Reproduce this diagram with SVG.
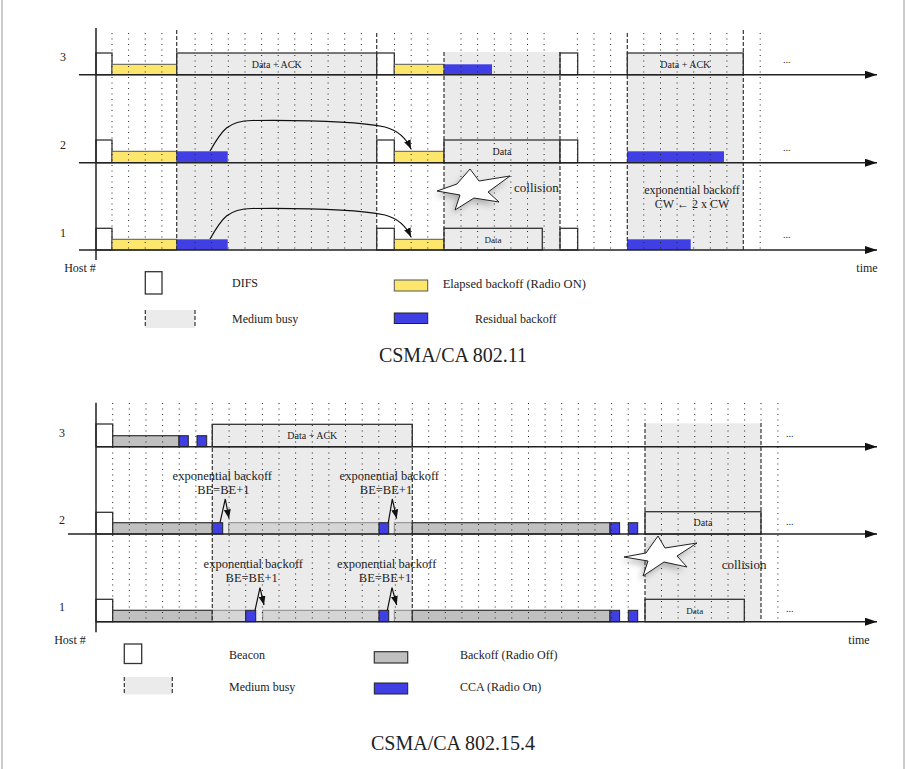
<svg xmlns="http://www.w3.org/2000/svg" width="906" height="769" viewBox="0 0 906 769">
<style>
text{font-family:"Liberation Serif","Times New Roman",serif;fill:#222}
.lbl{font-size:12px}
.sm{font-size:10px}
.xs{font-size:9px}
.ttl{font-size:20px}
.grid{stroke:#222;stroke-width:1;stroke-dasharray:1,4.5;fill:none}
.busyb{stroke:#333;stroke-width:1.2;stroke-dasharray:4,2;fill:none}
.busy{fill:#ebebeb}
.base{stroke:#222;stroke-width:1.5;fill:none}
.box{fill:#fff;stroke:#333;stroke-width:1.3}
.dbox{fill:#ebebeb;stroke:#333;stroke-width:1.3}
.yel{fill:#fde66c;stroke:#555;stroke-width:1}
.blue{fill:#3f3fe3}
.bblue{fill:#3f3fe3;stroke:#222;stroke-width:1}
.gray{fill:#c0c0c0;stroke:#333;stroke-width:1.2}
.lgray{fill:#d5d5d5;stroke:#888;stroke-width:1}
.curve{stroke:#111;stroke-width:1.2;fill:none}
.star{fill:#fff;stroke:#222;stroke-width:1}
</style>
<defs>
<marker id="ah" viewBox="0 0 12 8" refX="12" refY="4" markerWidth="12" markerHeight="8" markerUnits="userSpaceOnUse" orient="auto"><path d="M0,0L12,4L0,8z" fill="#111"/></marker>
<marker id="ahs" viewBox="0 0 9 7" refX="9" refY="3.5" markerWidth="9" markerHeight="7" markerUnits="userSpaceOnUse" orient="auto"><path d="M0,0L9,3.5L0,7z" fill="#111"/></marker>
<filter id="sh" x="-30%" y="-30%" width="160%" height="160%"><feGaussianBlur stdDeviation="3"/></filter>
</defs>
<line x1="2" y1="0" x2="2" y2="769" stroke="#999" stroke-width="1"/>
<line x1="904" y1="0" x2="904" y2="769" stroke="#999" stroke-width="1"/>

<!-- ===== TOP: CSMA/CA 802.11 ===== -->
<g id="top-busy">
<rect class="busy" x="176.7" y="53" width="200" height="197"/>
<rect class="busy" x="444" y="52" width="116" height="198"/>
<rect class="busy" x="627.3" y="53" width="116" height="197"/>
</g>
<g id="top-host3">
<rect class="box" x="96" y="53" width="16" height="21.7"/>
<rect class="yel" x="112" y="64.3" width="64.7" height="10.4"/>
<rect class="dbox" x="176.7" y="53" width="200" height="21.7"/>
<rect class="box" x="376.7" y="53" width="17.6" height="21.7"/>
<rect class="yel" x="394.3" y="64.3" width="49.7" height="10.4"/>
<rect class="blue" x="444" y="64.3" width="48" height="10.4"/>
<rect class="box" x="560" y="53" width="17.7" height="21.7"/>
<rect class="dbox" x="627.3" y="53" width="116" height="21.7"/>
</g>
<g id="top-host2">
<rect class="box" x="96" y="140" width="16" height="22.7"/>
<rect class="yel" x="112" y="151.3" width="64.7" height="11.4"/>
<rect class="blue" x="176.7" y="151.3" width="51" height="11.4"/>
<rect class="box" x="376.7" y="140" width="17.6" height="22.7"/>
<rect class="yel" x="394.3" y="151.3" width="49.7" height="11.4"/>
<rect class="dbox" x="444" y="140" width="116" height="22.7"/>
<rect class="box" x="560" y="140" width="17.7" height="22.7"/>
<rect class="blue" x="627" y="151.3" width="97" height="11.4"/>
</g>
<g id="top-host1">
<rect class="box" x="96" y="228.3" width="16" height="21.7"/>
<rect class="yel" x="112" y="239.3" width="64.7" height="10.7"/>
<rect class="blue" x="176.7" y="239.3" width="51" height="10.7"/>
<rect class="box" x="376.7" y="228.3" width="17.6" height="21.7"/>
<rect class="yel" x="394.3" y="239.3" width="49.7" height="10.7"/>
<rect class="dbox" x="444" y="228.3" width="98.3" height="21.7"/>
<rect class="box" x="560" y="228.3" width="17.7" height="21.7"/>
<rect class="blue" x="627" y="239.3" width="63.7" height="10.7"/>
</g>
<g id="top-grid">
<path class="grid" d="M112,33V250M128.6,33V250M145.2,33V250M161.9,33V250M195.1,33V250M211.7,33V250M228.3,33V250M245,33V250M261.6,33V250M278.2,33V250M294.8,33V250M311.4,33V250M328.1,33V250M344.7,33V250M361.3,33V250M394.5,33V250M411.2,33V250M427.8,33V250M461,33V250M477.6,33V250M494.3,33V250M510.9,33V250M527.5,33V250M544.1,33V250M577.4,33V250M594,33V250M610.6,33V250M643.8,33V250M660.5,33V250M677.1,33V250M693.7,33V250M710.3,33V250M726.9,33V250M760.2,33V250"/>
<path class="busyb" d="M176.7,30V250M376.7,33V250M444,52V250M560,52V250M627.3,33V250M743.3,30V250"/>
</g>
<g id="top-axes">
<line class="base" x1="96" y1="28" x2="96" y2="260"/>
<line class="base" x1="79" y1="74.7" x2="877" y2="74.7" marker-end="url(#ah)"/>
<line class="base" x1="79" y1="162.7" x2="877" y2="162.7" marker-end="url(#ah)"/>
<line class="base" x1="79" y1="250" x2="877" y2="250" marker-end="url(#ah)"/>
</g>
<g id="top-connectors">
<path class="curve" d="M210,151 C222,130 228,121 252,120.5 C300,120 355,121 385,127 C400,131 407,140 411,149" marker-end="url(#ahs)"/>
<path class="curve" d="M210,239 C222,218 228,209 252,208.5 C300,208 355,209 385,215 C400,219 407,228 411,237" marker-end="url(#ahs)"/>
</g>
<g id="top-collision">
<polygon points="437,191 457,184 470,169 479,181 510,176 488,192 499,202 474,198 455,210 460,195" fill="#666" opacity="0.45" filter="url(#sh)" transform="translate(-3,4)"/>
<polygon class="star" points="437,191 457,184 470,169 479,181 510,176 488,192 499,202 474,198 455,210 460,195"/>
<text class="lbl" x="514" y="192" style="font-size:13px">collision</text>
</g>
<g id="top-labels">
<text class="lbl" x="63" y="61" text-anchor="middle">3</text>
<text class="lbl" x="63" y="149" text-anchor="middle">2</text>
<text class="lbl" x="63" y="237" text-anchor="middle">1</text>
<text class="sm" x="276.7" y="68" text-anchor="middle">Data + ACK</text>
<text class="sm" x="685.3" y="68" text-anchor="middle">Data + ACK</text>
<text class="sm" x="502" y="155" text-anchor="middle">Data</text>
<text class="xs" x="493" y="243" text-anchor="middle">Data</text>
<text class="sm" x="783" y="63">...</text>
<text class="sm" x="783" y="151">...</text>
<text class="sm" x="783" y="238">...</text>
<text class="lbl" x="692" y="194" text-anchor="middle">exponential backoff</text>
<text class="lbl" x="692" y="208" text-anchor="middle">CW ← 2 x CW</text>
<text class="lbl" x="80" y="272" text-anchor="middle">Host #</text>
<text class="lbl" x="867" y="272" text-anchor="middle">time</text>
</g>
<g id="top-legend">
<rect class="box" x="145.3" y="271.7" width="16.7" height="22.3"/>
<text class="lbl" x="232" y="287">DIFS</text>
<rect class="yel" x="394.3" y="280" width="33.4" height="11"/>
<text class="lbl" x="442.7" y="288" style="font-size:12.5px">Elapsed backoff (Radio ON)</text>
<rect class="busy" x="145.3" y="310" width="49.7" height="18"/>
<path class="busyb" d="M145.3,310V328M195,310V328"/>
<text class="lbl" x="232" y="323">Medium busy</text>
<rect class="bblue" x="394.3" y="313" width="33.4" height="10.5"/>
<text class="lbl" x="475" y="323">Residual backoff</text>
<text class="ttl" x="453" y="362" text-anchor="middle">CSMA/CA 802.11</text>
</g>

<!-- ===== BOTTOM: CSMA/CA 802.15.4 ===== -->
<g id="bot-busy">
<rect class="busy" x="212.3" y="424.3" width="200" height="197.4"/>
<rect class="busy" x="645" y="423.3" width="116" height="198.4"/>
</g>
<g id="bot-host3">
<rect class="box" x="96" y="424" width="16.7" height="22.7"/>
<rect class="gray" x="112.7" y="435.7" width="66.3" height="11"/>
<rect class="bblue" x="179" y="435.7" width="9.3" height="11"/>
<rect class="bblue" x="197" y="435.7" width="9.7" height="11"/>
<rect class="dbox" x="212.3" y="424.3" width="200" height="22.4"/>
</g>
<g id="bot-host2">
<rect class="box" x="96" y="512.3" width="16.7" height="21.7"/>
<rect class="gray" x="112.7" y="522.7" width="99.6" height="11.3"/>
<rect class="bblue" x="212.3" y="522.7" width="10.4" height="11.3"/>
<rect class="lgray" x="228.7" y="522.7" width="150.3" height="11.3"/>
<rect class="bblue" x="379" y="522.7" width="9.7" height="11.3"/>
<rect class="lgray" x="394.3" y="522.7" width="18" height="11.3"/>
<rect class="gray" x="412.3" y="522.7" width="197.7" height="11.3"/>
<rect class="bblue" x="610" y="522.7" width="9.6" height="11.3"/>
<rect class="bblue" x="628.3" y="522.7" width="9.4" height="11.3"/>
<rect class="dbox" x="645" y="511.7" width="116" height="22.3"/>
</g>
<g id="bot-host1">
<rect class="box" x="96" y="599.3" width="16.7" height="22.4"/>
<rect class="gray" x="112.7" y="610.3" width="99.6" height="11.4"/>
<rect class="lgray" x="212.3" y="610.3" width="33.4" height="11.4"/>
<rect class="bblue" x="245.7" y="610.3" width="10" height="11.4"/>
<rect class="lgray" x="262.7" y="610.3" width="116.3" height="11.4"/>
<rect class="bblue" x="379" y="610.3" width="9.7" height="11.4"/>
<rect class="lgray" x="394.3" y="610.3" width="18" height="11.4"/>
<rect class="gray" x="412.3" y="610.3" width="197.7" height="11.4"/>
<rect class="bblue" x="610" y="610.3" width="9.6" height="11.4"/>
<rect class="bblue" x="628.3" y="610.3" width="9.4" height="11.4"/>
<rect class="dbox" x="645" y="599.3" width="99.3" height="22.4"/>
</g>
<g id="bot-grid">
<path class="grid" d="M112.7,403V622M129.3,403V622M146,403V622M162.6,403V622M179.2,403V622M195.9,403V622M229.1,403V622M245.7,403V622M262.4,403V622M279,403V622M295.6,403V622M312.3,403V622M328.9,403V622M345.5,403V622M362.2,403V622M378.8,403V622M395.4,403V622M428.7,403V622M445.3,403V622M461.9,403V622M478.6,403V622M495.2,403V622M511.8,403V622M528.5,403V622M545.1,403V622M561.7,403V622M578.3,403V622M595,403V622M611.6,403V622M628.2,403V622M661.5,403V622M678.1,403V622M694.8,403V622M711.4,403V622M728,403V622M744.6,403V622M777.9,403V622"/>
<path class="grid" d="M212.3,403V424M412.3,403V424M645,403V423M761,403V423"/>
<path class="busyb" d="M212.3,424V622M412.3,424V622M645,423V622M761,423V622"/>
</g>
<g id="bot-axes">
<line class="base" x1="96" y1="402.7" x2="96" y2="632.3"/>
<line class="base" x1="96" y1="446.7" x2="877" y2="446.7" marker-end="url(#ah)"/>
<line class="base" x1="68" y1="534" x2="877" y2="534" marker-end="url(#ah)"/>
<line class="base" x1="96" y1="621.7" x2="877" y2="621.7" marker-end="url(#ah)"/>
</g>
<g id="bot-connectors">
<polyline class="curve" points="220,522.7 225.3,499 229,518.5" marker-end="url(#ahs)"/>
<polyline class="curve" points="388.3,522.7 392.3,499 396.7,518.5" marker-end="url(#ahs)"/>
<polyline class="curve" points="255,610.3 260,587.7 264,605" marker-end="url(#ahs)"/>
<polyline class="curve" points="387.3,610.3 392,587.7 396.7,605" marker-end="url(#ahs)"/>
</g>
<g id="bot-collision">
<polygon points="624,557 646,553 658,536 665,548 697,543 677,556 687,567 664,562 643,576 648,561" fill="#666" opacity="0.45" filter="url(#sh)" transform="translate(-3,4)"/>
<polygon class="star" points="624,557 646,553 658,536 665,548 697,543 677,556 687,567 664,562 643,576 648,561"/>
<text class="lbl" x="721.7" y="568.5" style="font-size:13px">collision</text>
</g>
<g id="bot-labels">
<text class="lbl" x="62" y="437" text-anchor="middle">3</text>
<text class="lbl" x="62" y="524" text-anchor="middle">2</text>
<text class="lbl" x="62" y="611" text-anchor="middle">1</text>
<text class="sm" x="312.3" y="438.5" text-anchor="middle">Data + ACK</text>
<text class="sm" x="703" y="526" text-anchor="middle">Data</text>
<text class="xs" x="694.7" y="614" text-anchor="middle">Data</text>
<text class="sm" x="786" y="437">...</text>
<text class="sm" x="786" y="525">...</text>
<text class="sm" x="786" y="612">...</text>
<text class="lbl" x="222.3" y="480" text-anchor="middle" style="font-size:12.5px">exponential backoff</text>
<text class="lbl" x="223.3" y="494" text-anchor="middle" style="font-size:12.5px">BE=BE+1</text>
<text class="lbl" x="389.3" y="480" text-anchor="middle" style="font-size:12.5px">exponential backoff</text>
<text class="lbl" x="386" y="494" text-anchor="middle" style="font-size:12.5px">BE=BE+1</text>
<text class="lbl" x="253.3" y="567.5" text-anchor="middle" style="font-size:12.5px">exponential backoff</text>
<text class="lbl" x="251.7" y="582" text-anchor="middle" style="font-size:12.5px">BE=BE+1</text>
<text class="lbl" x="386.7" y="567.5" text-anchor="middle" style="font-size:12.5px">exponential backoff</text>
<text class="lbl" x="385" y="582" text-anchor="middle" style="font-size:12.5px">BE=BE+1</text>
<text class="lbl" x="70" y="644" text-anchor="middle">Host #</text>
<text class="lbl" x="859" y="644" text-anchor="middle">time</text>
</g>
<g id="bot-legend">
<rect class="box" x="124.3" y="644" width="17.4" height="19.5"/>
<text class="lbl" x="229" y="659">Beacon</text>
<rect class="gray" x="374.3" y="651.7" width="33.4" height="11.3"/>
<text class="lbl" x="460" y="659">Backoff (Radio Off)</text>
<rect class="busy" x="124.3" y="677" width="48" height="17.5"/>
<path class="busyb" d="M124.3,677V694.5M172.3,677V694.5"/>
<text class="lbl" x="229" y="691">Medium busy</text>
<rect class="bblue" x="374.3" y="683" width="33.4" height="11"/>
<text class="lbl" x="460" y="691">CCA (Radio On)</text>
<text class="ttl" x="453" y="750" text-anchor="middle">CSMA/CA 802.15.4</text>
</g>
</svg>
